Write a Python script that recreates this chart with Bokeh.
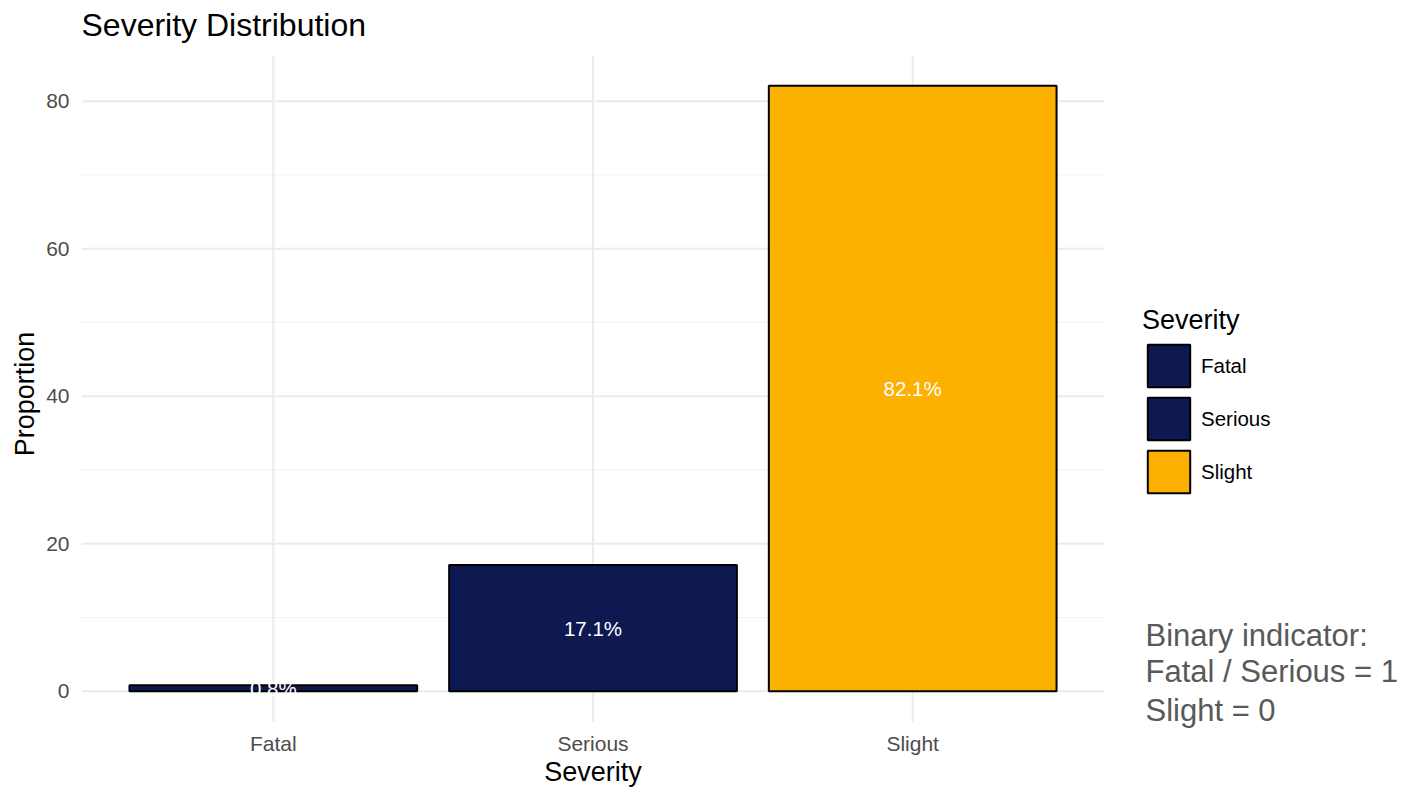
from bokeh.plotting import figure
from bokeh.models import (ColumnDataSource, Range1d, FixedTicker, Legend, LegendItem, Label)
from bokeh.embed import file_html
from bokeh.resources import INLINE

# Share of collisions by severity (%)
categories = ["Fatal", "Serious", "Slight"]
proportions = [0.8, 17.1, 82.1]
bar_colors = ["#0f1951", "#0f1951", "#fcb000"]
y_ticks = [0, 20, 40, 60, 80]
y_minor = [10, 30, 50, 70]
note_lines = ["Binary indicator:", "Fatal / Serious = 1", "Slight = 0"]

FONT = "Liberation Sans"

xs = list(range(1, len(categories) + 1))
src = ColumnDataSource(dict(
    x=xs,
    value=proportions,
    mid=[v / 2 for v in proportions],
    color=bar_colors,
    label=[f"{v:.1f}%" for v in proportions],
))

# Layout: the plotting panel spans x 81..1104 and y 55..721 px; the frame itself
# is stretched over the whole canvas (right of the y axis) so that title, x labels,
# legend and note can all be drawn as annotations inside it.
W, H = 1407, 787
LEFT = 81
PANEL_L, PANEL_R, PANEL_T, PANEL_B = 81, 1104, 55, 721

x_lo, x_hi = 0.4, len(categories) + 0.6
top = max(proportions)
pad = top * 0.05
y_lo, y_hi = -pad, top + pad

ppx = (PANEL_R - PANEL_L) / (x_hi - x_lo)
ppy = (PANEL_B - PANEL_T) / (y_hi - y_lo)
x_start = x_lo - (PANEL_L - LEFT) / ppx
x_end = x_hi + (W - PANEL_R) / ppx
y_start = y_lo - (H - PANEL_B) / ppy
y_end = y_hi + PANEL_T / ppy


def screen_y(baseline_px, font_px):
    """Label y (from frame bottom) that puts the text baseline at baseline_px
    from the top of the canvas."""
    return H - baseline_px + 0.37 * font_px


p = figure(width=W, height=H,
           x_range=Range1d(x_start, x_end),
           y_range=Range1d(y_start, y_end),
           x_axis_location=None,
           output_backend="svg", toolbar_location=None,
           min_border_left=LEFT, min_border_right=0,
           min_border_top=0, min_border_bottom=0)

p.outline_line_color = None
p.background_fill_color = "white"
p.grid.visible = False

# y axis
yax = p.yaxis[0]
yax.ticker = FixedTicker(ticks=y_ticks, minor_ticks=y_minor)
yax.bounds = (y_lo, y_hi)
yax.axis_line_color = None
yax.major_tick_line_color = None
yax.minor_tick_line_color = None
yax.major_tick_out = 0
yax.major_tick_in = 0
yax.minor_tick_out = 0
yax.minor_tick_in = 0
yax.major_label_text_font = FONT
yax.major_label_text_font_size = "21px"
yax.major_label_text_color = "#4d4d4d"
yax.major_label_standoff = 12
yax.axis_label = "Proportion"
yax.axis_label_text_font = FONT
yax.axis_label_text_font_size = "27px"
yax.axis_label_text_font_style = "normal"
yax.axis_label_text_color = "#000000"
yax.axis_label_standoff = 3

# panel grid lines
p.segment(x0=x_lo, x1=x_hi, y0=y_minor, y1=y_minor, line_color="#f2f2f2",
          line_width=1, level="underlay")
p.segment(x0=x_lo, x1=x_hi, y0=y_ticks, y1=y_ticks, line_color="#ebebeb",
          line_width=2, level="underlay")
p.segment(x0=xs, x1=xs, y0=y_lo, y1=y_hi, line_color="#ebebeb",
          line_width=2, level="underlay")

bars = p.vbar(x="x", top="value", bottom=0, width=0.9, source=src,
              fill_color="color", line_color="black", line_width=2)

p.text(x="x", y="mid", text="label", source=src, text_color="white",
       text_font={"value": FONT}, text_font_size="20.5px",
       text_align="center", text_baseline="middle")

# title
p.add_layout(Label(x=0, y=screen_y(36, 32), x_units="screen", y_units="screen",
                   text="Severity Distribution", text_font=FONT, text_font_size="32px",
                   text_color="#000000", text_baseline="alphabetic", text_align="left"))

# x tick labels and x axis title
for xv, cat in zip(xs, categories):
    p.add_layout(Label(x=xv, y=screen_y(751, 21), x_units="data", y_units="screen",
                       text=cat, text_font=FONT, text_font_size="21px",
                       text_color="#4d4d4d", text_baseline="alphabetic",
                       text_align="center"))
p.add_layout(Label(x=(x_lo + x_hi) / 2, y=screen_y(781, 27), x_units="data",
                   y_units="screen", text="Severity", text_font=FONT,
                   text_font_size="27px", text_color="#000000",
                   text_baseline="alphabetic", text_align="center"))

legend = Legend(
    items=[LegendItem(label=c, renderers=[bars], index=i) for i, c in enumerate(categories)],
    location=(1142 - LEFT, H - 498),
    title="Severity",
    title_text_font=FONT, title_text_font_size="27px", title_text_font_style="normal",
    title_text_color="#000000", title_standoff=3,
    label_text_font=FONT, label_text_font_size="20.5px", label_text_color="#000000",
    glyph_width=53, glyph_height=53, spacing=0, label_standoff=6,
    padding=0, margin=0, border_line_color=None, background_fill_alpha=0,
)
p.add_layout(legend)

# note on how severity is coded
baselines = [646.5, 682, 721.5]
for txt, yb in zip(note_lines, baselines):
    p.add_layout(Label(x=1145 - LEFT, y=screen_y(yb, 31), x_units="screen",
                       y_units="screen", text=txt, text_font=FONT,
                       text_font_size="31px", text_color="#595959",
                       text_baseline="alphabetic", text_align="left"))

open("out.html", "w").write(file_html(p, INLINE))
